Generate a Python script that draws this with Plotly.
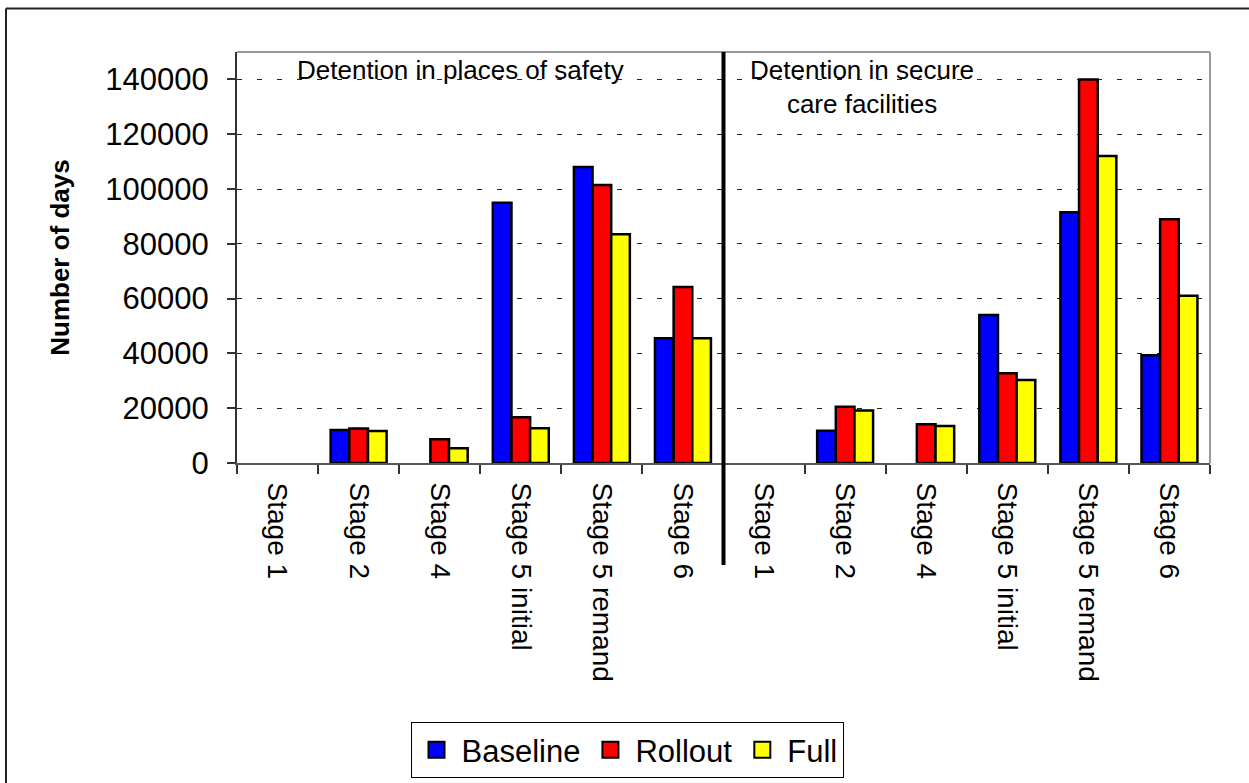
import plotly.graph_objects as go

# ---- data ----
stages = ["Stage 1", "Stage 2", "Stage 4", "Stage 5 initial", "Stage 5 remand", "Stage 6"]
group_titles = ["Detention in places of safety", "Detention in secure<br>care facilities"]
series_names = ["Baseline", "Rollout", "Full"]
series_colors = ["#0000FF", "#FF0000", "#FFFF00"]

baseline_safety = [0, 12000, 0, 95000, 108000, 45500]
rollout_safety = [0, 12600, 8700, 16700, 101500, 64200]
full_safety = [0, 11700, 5400, 12700, 83500, 45500]

baseline_secure = [0, 11800, 0, 54000, 91500, 39300]
rollout_secure = [0, 20500, 14100, 32800, 140000, 89000]
full_secure = [0, 19200, 13500, 30300, 112000, 61000]

y_ticks = [0, 20000, 40000, 60000, 80000, 100000, 120000, 140000]

# unique category keys (stage names repeat in the two groups)
keys = ["safety|" + s for s in stages] + ["secure|" + s for s in stages]
labels = stages + stages

series_values = [
    baseline_safety + baseline_secure,
    rollout_safety + rollout_secure,
    full_safety + full_secure,
]

FONT = "Liberation Sans, Arial, sans-serif"

fig = go.Figure()
for name, color, vals in zip(series_names, series_colors, series_values):
    # zero values are not drawn (no visible bar in the original)
    fig.add_trace(go.Bar(
        x=keys, y=[v if v else None for v in vals], name=name, showlegend=False,
        marker=dict(color=color, line=dict(color="black", width=2.5)),
    ))
# legend proxies (larger square swatches)
for name, color in zip(series_names, series_colors):
    fig.add_trace(go.Scatter(
        x=[None], y=[None], mode="markers", name=name,
        marker=dict(symbol="square", size=16, color=color, line=dict(color="black", width=2)),
    ))

W, H = 1249, 783
L, R, T, B = 237, 39, 52, 320
pw, ph = W - L - R, H - T - B

def px_x(p):
    return (p - L) / pw

def px_y(p):
    return (H - B - p) / ph

fig.update_layout(
    width=W, height=H,
    margin=dict(l=L, r=R, t=T, b=B, autoexpand=False),
    paper_bgcolor="white", plot_bgcolor="white",
    font=dict(family=FONT, color="black"),
    barmode="group", bargap=0.31, bargroupgap=0,
    showlegend=True,
    legend=dict(
        orientation="h", x=px_x(627), xanchor="center", y=px_y(722), yanchor="top",
        bordercolor="black", borderwidth=1, bgcolor="white",
        font=dict(size=31, family=FONT), itemwidth=40,
    ),
    xaxis=dict(
        type="category", tickmode="array", tickvals=keys, ticktext=labels,
        tickangle=90, tickson="boundaries", ticks="outside", ticklen=9, tickwidth=1.5,
        tickcolor="#333", tickfont=dict(size=28, family=FONT, color="black"), ticklabelstandoff=12,
        showline=True, linecolor="#555", linewidth=2, showgrid=False,
        range=[-0.5, 11.5],
    ),
    yaxis=dict(
        range=[0, 150000], tickmode="array", tickvals=y_ticks, tickformat="d",
        ticks="outside", ticklen=8, tickwidth=1.5, tickcolor="#333",
        tickfont=dict(size=31, family=FONT, color="black"), ticklabelstandoff=12,
        showline=True, linecolor="#333", linewidth=2,
        showgrid=True, gridcolor="#222", gridwidth=1, griddash="5px,15px",
        zeroline=False,
        title=dict(text="<b>Number of days</b>", font=dict(size=26, family=FONT, color="black"), standoff=28),
    ),
    annotations=[
        dict(text=group_titles[0], xref="paper", yref="paper", x=px_x(460), y=px_y(70),
             showarrow=False, font=dict(size=26, family=FONT, color="black"), xanchor="center", yanchor="middle"),
        dict(text=group_titles[1], xref="paper", yref="paper", x=px_x(862), y=px_y(87),
             showarrow=False, font=dict(size=26, family=FONT, color="black"), xanchor="center", yanchor="middle",
             align="center"),
    ],
    shapes=[
        # top and right frame of plot area (grey)
        dict(type="line", xref="paper", yref="paper", x0=0, x1=1, y0=1, y1=1, line=dict(color="#999", width=2)),
        dict(type="line", xref="paper", yref="paper", x0=1, x1=1, y0=0, y1=1, line=dict(color="#999", width=2)),
        # separator between the two groups
        dict(type="line", xref="x", yref="paper", x0=5.5, x1=5.5, y0=px_y(565), y1=1,
             line=dict(color="black", width=4)),
        # outer chart border: left and top edges (the others lie outside the picture)
        dict(type="line", xref="paper", yref="paper", x0=px_x(6), x1=px_x(6), y0=px_y(H), y1=px_y(8.5),
             line=dict(color="#222", width=2), layer="below"),
        dict(type="line", xref="paper", yref="paper", x0=px_x(6), x1=px_x(W), y0=px_y(8.5), y1=px_y(8.5),
             line=dict(color="#222", width=2), layer="below"),
    ],
)

fig.write_html(
    "out.html",
    config={"displayModeBar": False},
    post_script="document.body.style.margin='0';document.body.style.overflow='hidden';",
)
